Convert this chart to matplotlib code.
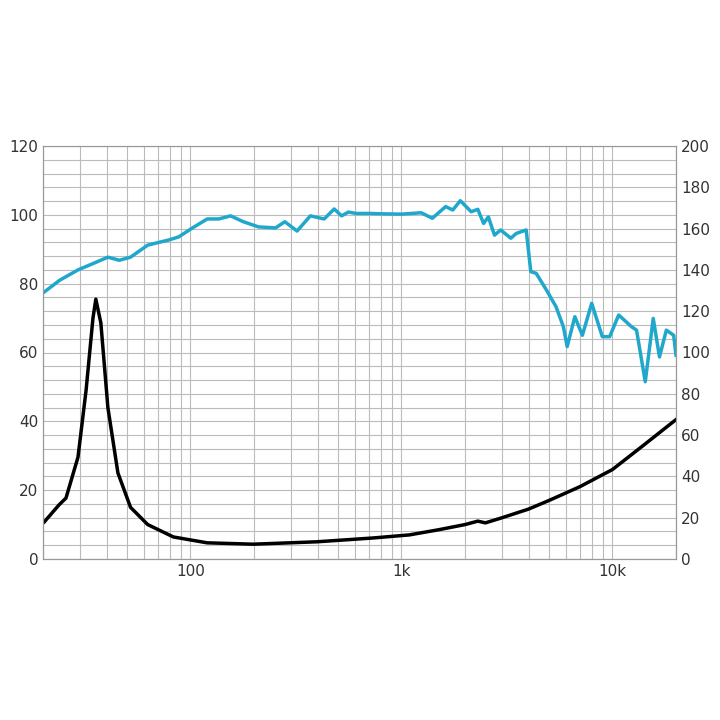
import matplotlib
matplotlib.use("Agg")
import matplotlib.pyplot as plt
from matplotlib.ticker import FixedLocator, NullFormatter, MultipleLocator

spl_f = [20.3,24,29.3,35,40.6,46,52,62.7,79,88,101,120,136,155,178,210,253,280,320,370,430,480,520,560,610,710,800,1000,1240,1400,1620,1750,1900,2140,2300,2450,2580,2760,2950,3300,3500,3900,4100,4350,4870,5400,5850,6100,6630,7200,7970,8950,9700,10700,12300,13000,14300,15600,16700,18000,19500,20000]
spl_v = [77.6,81,84,86,87.7,86.8,87.7,91.2,92.7,93.6,96,98.8,98.8,99.7,98,96.5,96.2,98,95.3,99.7,98.8,101.7,99.7,100.8,100.4,100.4,100.3,100.2,100.6,99,102.4,101.4,104.1,100.9,101.6,97.5,99.4,94.1,95.6,93.2,94.6,95.6,83.5,83,78.1,73.3,67.5,61.7,70.4,65,74.3,64.6,64.6,70.9,67.5,66.5,51.5,69.9,58.7,66.5,65,59.2]
imp_f = [20.3,23.8,25.7,29.3,32,34.5,35.6,37.6,40.6,45.3,52,62.7,83,120,198,397,730,1090,1500,2000,2300,2500,3000,4000,5000,7000,10000,14000,20000]
imp_v = [10.8,15.7,17.7,29.6,49,70,75.5,68.6,44,25,15,10,6.4,4.7,4.3,5,6.1,7,8.5,10,11,10.5,12,14.5,17,21,26,33,40.5]

fig = plt.figure(figsize=(7.2,7.2), dpi=100)
ax = fig.add_axes([43/720, 1-559/720, 633/720, 413/720])
ax.set_xscale('log')
ax.set_xlim(20, 20000)
ax.set_ylim(0, 120)
ax.plot(spl_f, spl_v, color='#1fa8cc', lw=2.5)
ax.plot(imp_f, imp_v, color='black', lw=2.5)
ax.yaxis.set_major_locator(MultipleLocator(20))
ax.yaxis.set_minor_locator(MultipleLocator(4))
ax.xaxis.set_major_locator(FixedLocator([100,1000,10000]))
ax.set_xticklabels(['100','1k','10k'])
ax.xaxis.set_minor_locator(FixedLocator([m*10**e for e in range(1,5) for m in range(2,10) if 20<=m*10**e<=20000]))
ax.xaxis.set_minor_formatter(NullFormatter())
ax.grid(True, which='both', color='#bbbbbb', lw=0.8)
ax.set_axisbelow(True)
ax.tick_params(which='both', length=0, labelsize=11, colors='#333333')
for s in ax.spines.values():
    s.set_color('#999999')
ax2 = ax.twinx()
ax2.set_ylim(0, 200)
ax2.yaxis.set_major_locator(MultipleLocator(20))
ax2.tick_params(length=0, labelsize=11, colors='#333333')
for s in ax2.spines.values():
    s.set_color('#999999')
fig.savefig('out.png', dpi=100)
